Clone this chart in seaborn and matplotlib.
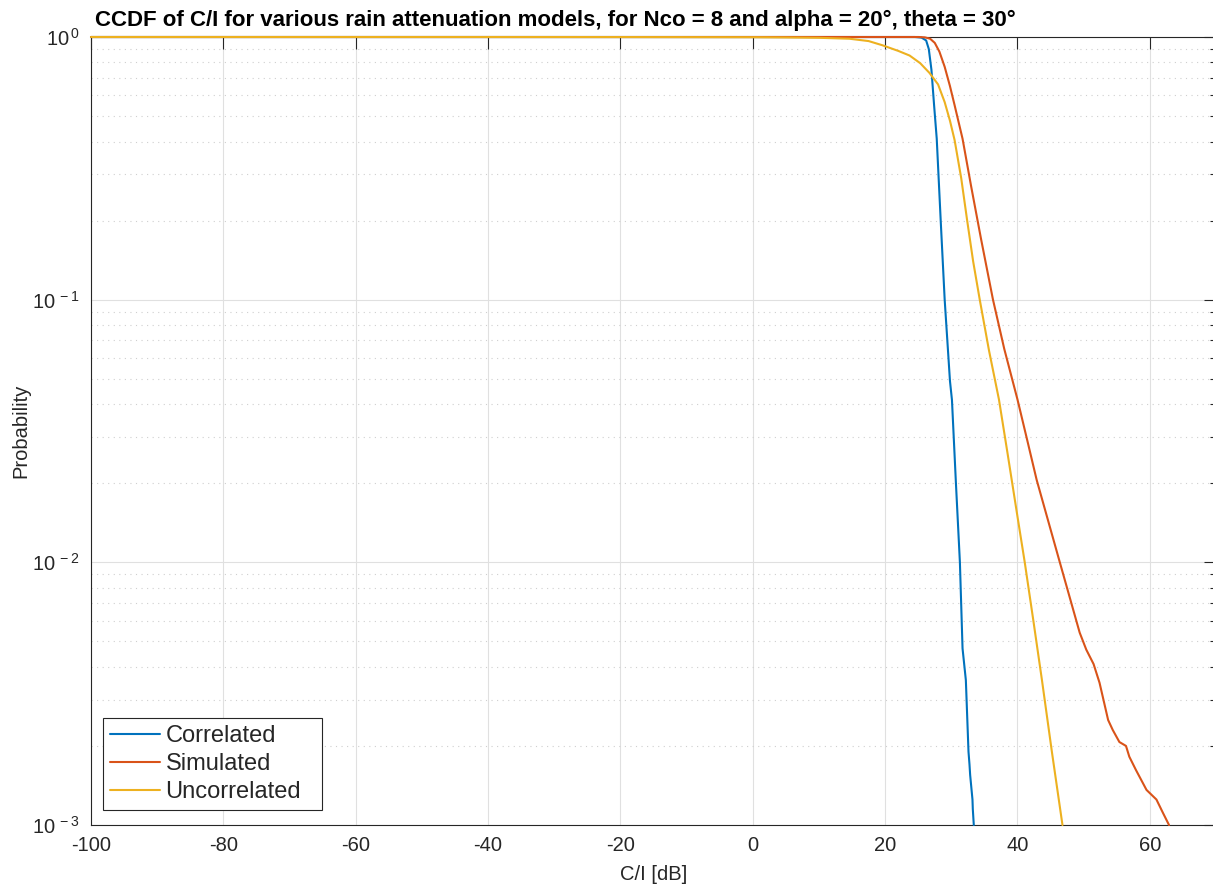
import numpy as np
import pandas as pd
import matplotlib
matplotlib.use("Agg")
import matplotlib.pyplot as plt
import seaborn as sns
from matplotlib.ticker import LogLocator, FixedLocator, NullFormatter

# C/I [dB] and CCDF values per model
corr_ci = [-100, 24.5, 25.5, 26.2, 26.6, 27.0, 27.4, 27.8, 28.4, 29.0, 29.8, 30.1,
           30.7, 31.3, 31.7, 32.2, 32.6, 32.75, 32.85, 33.2, 33.25, 33.4]
corr_p = [1.0, 1.0, 0.995, 0.97, 0.9, 0.75, 0.55, 0.41, 0.2, 0.1, 0.049, 0.0415,
          0.02, 0.01, 0.0047, 0.00356, 0.0019, 0.0017, 0.00155, 0.00125, 0.00115, 0.001]

sim_ci = [-100, 25.0, 26.0, 26.8, 27.5, 28.2, 29.0, 29.8, 30.5, 31.7, 33.0, 34.5,
          36.3, 38.0, 40.0, 41.5, 42.9, 44.6, 46.4, 48.0, 49.4, 50.4, 51.5, 52.4,
          53.7, 54.4, 55.4, 56.4, 56.9, 57.9, 59.5, 61.0, 62.0, 62.9]
sim_p = [1.0, 1.0, 0.997, 0.985, 0.95, 0.88, 0.77, 0.65, 0.55, 0.41, 0.27, 0.17,
         0.1, 0.065, 0.0417, 0.029, 0.0206, 0.0145, 0.01, 0.0072, 0.0054, 0.00465,
         0.0041, 0.00348, 0.00251, 0.0023, 0.00207, 0.002, 0.00182, 0.00162,
         0.00136, 0.00125, 0.00111, 0.001]

unc_ci = [-100, -40, -20, 0, 5, 10, 14.6, 17.5, 19.6, 22.0, 23.7, 25.3, 26.7,
          28.0, 29.0, 29.8, 30.5, 31.5, 32.4, 33.3, 34.3, 35.7, 37.2, 38.5, 39.9,
          41.1, 42.4, 43.7, 45.2, 46.8]
unc_p = [1.0, 0.9999, 0.9995, 0.998, 0.996, 0.993, 0.985, 0.965, 0.93, 0.885,
         0.85, 0.795, 0.73, 0.66, 0.565, 0.48, 0.405, 0.29, 0.2, 0.14, 0.1,
         0.064, 0.0417, 0.026, 0.0155, 0.01, 0.006, 0.00356, 0.0019, 0.001]

models = ["Correlated", "Simulated", "Uncorrelated"]
palette = {"Correlated": "#0072BD", "Simulated": "#D95319", "Uncorrelated": "#EDB120"}

df = pd.concat([
    pd.DataFrame({"ci": corr_ci, "p": corr_p, "model": "Correlated"}),
    pd.DataFrame({"ci": sim_ci, "p": sim_p, "model": "Simulated"}),
    pd.DataFrame({"ci": unc_ci, "p": unc_p, "model": "Uncorrelated"}),
], ignore_index=True)

sns.set_theme(style="white")
plt.rcParams["font.family"] = ["Liberation Sans", "DejaVu Sans"]
plt.rcParams["mathtext.fontset"] = "custom"
plt.rcParams["mathtext.rm"] = "Liberation Sans"
plt.rcParams["mathtext.default"] = "regular"
plt.rcParams["axes.unicode_minus"] = False

W, H = 1213, 889
fig = plt.figure(figsize=(W / 100, H / 100), dpi=100)
ax = fig.add_axes([91 / W, 1 - 825 / H, (1216 - 91) / W, (825 - 37) / H])

sns.lineplot(data=df, x="ci", y="p", hue="model", hue_order=models, palette=palette,
             sort=False, estimator=None, linewidth=1.5, ax=ax, legend=True)
for ln in ax.get_lines():
    ln.set_clip_on(False)
    ln.set_zorder(5)
    ln.set_solid_joinstyle("round")

ax.set_yscale("log")
ax.set_xlim(-100, 70)
ax.set_ylim(1e-3, 1)
ax.xaxis.set_major_locator(FixedLocator(np.arange(-100, 61, 20)))
ax.yaxis.set_major_locator(FixedLocator([1e-3, 1e-2, 1e-1, 1]))
ax.yaxis.set_major_formatter(plt.FuncFormatter(lambda v, _: r"$10^{\,%d}$" % round(np.log10(v))))
ax.yaxis.set_minor_locator(LogLocator(base=10, subs=np.arange(2, 10)))
ax.yaxis.set_minor_formatter(NullFormatter())

tick_col = "#262626"
ax.tick_params(axis="both", which="major", direction="in", length=8.5, width=0.8,
               colors=tick_col, labelsize=14.5, top=True, right=True, pad=8)
ax.tick_params(axis="y", which="minor", direction="in", length=4.5, width=0.8,
               colors=tick_col, right=True)

ax.grid(True, which="major", color="#e0e0e0", linewidth=0.8, linestyle="-")
ax.grid(True, which="minor", axis="y", color="#cfcfcf", linewidth=0.8, linestyle=(0, (1, 4)))
ax.set_axisbelow(True)
for s in ax.spines.values():
    s.set_color(tick_col)
    s.set_linewidth(0.8)

ax.set_xlabel("C/I [dB]", fontsize=14.5, color=tick_col, labelpad=7)
ax.set_ylabel("Probability", fontsize=14.5, color=tick_col)
ax.yaxis.set_label_coords((30 - 91) / 1125, 0.5)

fig.text(95 / W, 1 - 26 / H, "CCDF of C/I for various rain attenuation models, for Nco = 8 and alpha = 20°, theta = 30°",
         fontsize=16, fontweight="bold", color="black", ha="left", va="baseline")

leg = ax.legend(loc="lower left", bbox_to_anchor=(12 / 1125, 15 / 788, 219 / 1125, 93 / 788),
                mode="expand", fontsize=17,
                frameon=True, fancybox=False, edgecolor=tick_col, framealpha=1,
                handlelength=2.1, handletextpad=0.25, borderpad=0.3, labelspacing=0.25,
                borderaxespad=0)
leg.get_frame().set_linewidth(0.8)

fig.savefig("out.png", dpi=100, facecolor="white")
